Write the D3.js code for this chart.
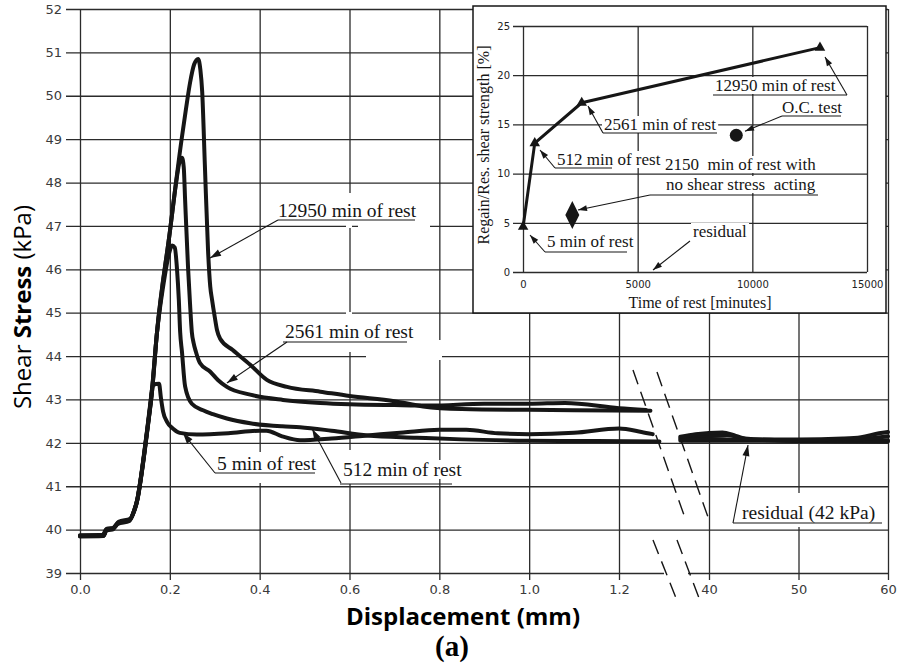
<!DOCTYPE html>
<html>
<head>
<meta charset="utf-8">
<script src="https://cdn.jsdelivr.net/npm/d3@7"></script>
<style>
  body { margin: 0; background: #fff; }
  svg { display: block; }
</style>
</head>
<body>
<svg id="chart" width="898" height="668"></svg>
<script>
// ---------- data ----------
// stress axis (kPa) and displacement axis ticks (mm), the axis is broken after 1.2 mm
const stressTicks = d3.range(39, 53);
const dispTicksNear = [0, 0.2, 0.4, 0.6, 0.8, 1.0, 1.2];
const dispTicksFar = [40, 50, 60];

// shear stress vs displacement, first 1.3 mm of each reshearing stage
const near5 = [[0,39.86],[0.05,39.86],[0.057,39.98],[0.072,40.0],[0.084,40.13],[0.11,40.2],[0.118,40.36],[0.127,40.66],[0.134,41.1],[0.142,41.7],[0.15,42.35],[0.157,42.95],[0.162,43.33],[0.176,43.36],[0.18,43.05],[0.185,42.72],[0.194,42.48],[0.208,42.32],[0.222,42.23],[0.26,42.19],[0.33,42.22],[0.4,42.28],[0.415,42.28],[0.45,42.15],[0.49,42.06],[0.56,42.1],[0.64,42.17],[0.72,42.24],[0.8,42.3],[0.86,42.3],[0.93,42.22],[1.0,42.2],[1.1,42.23],[1.2,42.33],[1.25,42.25],[1.275,42.2]];
const near512 = [[0,39.84],[0.052,39.85],[0.059,40.0],[0.073,40.03],[0.085,40.16],[0.111,40.23],[0.119,40.4],[0.128,40.72],[0.135,41.15],[0.143,41.75],[0.151,42.4],[0.16,43.15],[0.171,44.5],[0.185,45.6],[0.198,46.35],[0.205,46.55],[0.211,46.5],[0.216,46.0],[0.22,45.3],[0.223,44.55],[0.227,44.1],[0.234,43.3],[0.249,42.9],[0.274,42.75],[0.296,42.66],[0.327,42.56],[0.379,42.45],[0.45,42.38],[0.49,42.36],[0.56,42.28],[0.64,42.17],[0.75,42.12],[0.85,42.08],[1.0,42.05],[1.15,42.04],[1.29,42.03]];
const near2561 = [[0,39.87],[0.054,39.88],[0.06,40.02],[0.074,40.04],[0.086,40.18],[0.112,40.25],[0.12,40.42],[0.129,40.75],[0.136,41.2],[0.144,41.8],[0.152,42.45],[0.161,43.25],[0.171,44.5],[0.2,46.86],[0.214,48.0],[0.221,48.45],[0.227,48.57],[0.231,48.35],[0.234,47.6],[0.2405,46.05],[0.245,45.2],[0.249,44.55],[0.253,44.3],[0.258,44.1],[0.267,43.84],[0.29,43.64],[0.307,43.45],[0.327,43.29],[0.379,43.11],[0.452,42.99],[0.535,42.92],[0.6,42.89],[0.7,42.87],[0.78,42.86],[0.9,42.9],[1.0,42.9],[1.08,42.92],[1.2,42.8],[1.26,42.76]];
const near12950 = [[0,39.85],[0.053,39.86],[0.058,40.01],[0.073,40.02],[0.085,40.15],[0.11,40.22],[0.119,40.38],[0.128,40.7],[0.135,41.15],[0.143,41.75],[0.151,42.4],[0.16,43.2],[0.171,44.5],[0.2,46.86],[0.226,48.98],[0.236,49.7],[0.245,50.3],[0.254,50.72],[0.263,50.85],[0.268,50.6],[0.272,50.1],[0.278,48.4],[0.285,46.45],[0.29,45.6],[0.294,45.3],[0.3,44.9],[0.305,44.6],[0.312,44.4],[0.34,44.14],[0.379,43.8],[0.416,43.45],[0.461,43.29],[0.535,43.18],[0.6,43.08],[0.7,42.96],[0.764,42.84],[0.85,42.78],[1.0,42.76],[1.1,42.75],[1.27,42.74]];

// large displacements (right of the axis break)
const far5 = [[36.8,42.11],[40,42.16],[42,42.18],[44,42.1],[50,42.05],[56,42.04],[60,42.06]];
const far512 = [[36.8,42.05],[42,42.05],[46,42.05],[52,42.04],[60,42.03]];
const far2561 = [[36.8,42.08],[40,42.09],[44,42.07],[50,42.06],[55,42.07],[58,42.1],[60,42.15]];
const far12950 = [[36.8,42.14],[38.5,42.2],[41.5,42.24],[43,42.16],[44.5,42.08],[50,42.08],[55,42.1],[57,42.13],[59,42.22],[60,42.25]];

// regain of strength over the residual value vs time of rest
const restTimes = [5, 512, 2561, 12950];
const regainPct = [4.6, 13.1, 17.2, 22.8];
const ocTest = [9300, 13.9];
const noShearRest = [2150, 5.8];
const restTimeTicks = [0, 5000, 10000, 15000];
const regainTicks = [0, 5, 10, 15, 20, 25];

// ---------- setup ----------
const svg = d3.select('#chart');
const INK = '#161616';
const GRID = '#2b2b2b';
const TICKFONT = 'DejaVu Sans';
const SERIF = 'Liberation Serif';

const xNear = d3.scaleLinear().domain([0, 1.2]).range([80, 619]);
const xFar = d3.scaleLinear().domain([40, 60]).range([709, 888]);
const xPos = v => (v < 20 ? xNear(v) : xFar(v));
const y = d3.scaleLinear().domain([39, 52]).range([573, 9]);

const layerGrid = svg.append('g');
const layerPatch = svg.append('g');
const layerCurves = svg.append('g');
const layerNotes = svg.append('g');
const layerInset = svg.append('g');

function styleAxis(g, size, color) {
  g.select('.domain').remove();
  g.selectAll('.tick line').attr('stroke', GRID).attr('stroke-width', 1.3);
  g.selectAll('.tick text').attr('font-family', TICKFONT).attr('font-size', size).attr('fill', color);
}

// horizontal grid (extends left of the frame as tick marks)
layerGrid.append('g')
  .attr('transform', 'translate(888,0)')
  .call(d3.axisLeft(y).tickValues(stressTicks).tickSize(822).tickPadding(4).tickFormat(d3.format('d')))
  .call(g => styleAxis(g, 13, '#3a3a3a'));

// vertical grid, both parts of the broken displacement axis
layerGrid.append('g')
  .attr('transform', 'translate(0,9)')
  .call(d3.axisBottom(xNear).tickValues(dispTicksNear).tickSize(571).tickPadding(5).tickFormat(d3.format('.1f')))
  .call(g => styleAxis(g, 13, '#3a3a3a'));
layerGrid.append('g')
  .attr('transform', 'translate(0,9)')
  .call(d3.axisBottom(xFar).tickValues(dispTicksFar).tickSize(571).tickPadding(5).tickFormat(d3.format('d')))
  .call(g => styleAxis(g, 13, '#3a3a3a'));

// gap in the bottom frame line at the axis break
layerGrid.append('rect').attr('x', 664).attr('y', 570).attr('width', 24).attr('height', 6).attr('fill', '#fff');

// break marks
const breakMarks = [
  [[633, 370], [685, 518]], [[657, 372], [709, 520]],
  [[653, 540], [676, 598]], [[677, 540], [699, 598]]
];
layerGrid.selectAll('line.brk').data(breakMarks).join('line')
  .attr('class', 'brk')
  .attr('x1', d => d[0][0]).attr('y1', d => d[0][1])
  .attr('x2', d => d[1][0]).attr('y2', d => d[1][1])
  .attr('stroke', INK).attr('stroke-width', 1.4).attr('stroke-dasharray', '15,8');

// erased bits of the grid around the labels
const erased = [[346,193,6,35],[358,221,72,8],[346,312,6,40],[366,351,76,9],[438,340,6,16],[257,452,6,31],[346,450,6,34],[795,493,6,34]];
layerPatch.selectAll('rect').data(erased).join('rect')
  .attr('x', d => d[0]).attr('y', d => d[1]).attr('width', d => d[2]).attr('height', d => d[3])
  .attr('fill', '#fff');

// ---------- curves ----------
const line = d3.line().x(d => xPos(d[0])).y(d => y(d[1])).curve(d3.curveMonotoneX);
const curves = [near5, near512, near2561, near12950, far5, far512, far2561, far12950];
layerCurves.selectAll('path').data(curves).join('path')
  .attr('d', line)
  .attr('fill', 'none')
  .attr('stroke', INK)
  .attr('stroke-width', 4)
  .attr('stroke-linejoin', 'round')
  .attr('stroke-linecap', 'round');

// ---------- annotation helpers ----------
function arrowHead(g, from, tip, len, half) {
  const a = Math.atan2(tip[1] - from[1], tip[0] - from[0]);
  const bx = tip[0] - len * Math.cos(a), by = tip[1] - len * Math.sin(a);
  const px = -Math.sin(a) * half, py = Math.cos(a) * half;
  g.append('path')
    .attr('d', `M${tip[0]},${tip[1]}L${bx + px},${by + py}L${bx - px},${by - py}Z`)
    .attr('fill', INK);
}

function drawNote(textLayer, boxLayer, note, tip, opts) {
  const g = textLayer.append('g');
  note.lines.forEach(l => {
    const t = g.append('text')
      .attr('x', l[1]).attr('y', l[2])
      .attr('font-family', SERIF).attr('font-size', opts.size)
      .attr('fill', INK)
      .attr('xml:space', 'preserve')
      .style('white-space', 'pre')
      .text(l[0]);
    const b = t.node().getBBox();
    boxLayer.append('rect')
      .attr('x', b.x - 2).attr('y', b.y + 1)
      .attr('width', b.width + 4).attr('height', b.height - 2)
      .attr('fill', '#fff');
  });
  if (note.ul) {
    g.append('line').attr('x1', note.ul[0]).attr('x2', note.ul[1])
      .attr('y1', note.ul[2]).attr('y2', note.ul[2])
      .attr('stroke', INK).attr('stroke-width', 1.2);
  }
  g.append('line').attr('x1', note.from[0]).attr('y1', note.from[1])
    .attr('x2', tip[0]).attr('y2', tip[1])
    .attr('stroke', INK).attr('stroke-width', 1.1);
  arrowHead(g, note.from, tip, opts.len, opts.half);
}

// main chart labels (arrow tips sit on the curves, in data units)
const mainNotes = [
  { lines: [['12950 min of rest', 278, 217]], ul: [278, 415, 220], from: [278, 220], at: [0.2895, 46.26] },
  { lines: [['2561 min of rest', 285, 338]], ul: [283, 407, 342], from: [287, 342], at: [0.327, 43.38] },
  { lines: [['5 min of rest', 217, 470]], ul: [215, 315, 473], from: [215, 473], at: [0.229, 42.23] },
  { lines: [['512 min of rest', 343, 476]], ul: [340, 452, 484], from: [341, 483], at: [0.517, 42.32] },
  { lines: [['residual (42 kPa)', 742, 519]], ul: [733, 882, 523], from: [733, 523], at: [44.36, 41.95] }
];
mainNotes.forEach(n => drawNote(layerNotes, layerPatch, n, [xPos(n.at[0]), y(n.at[1])], { size: 19.5, len: 11, half: 3.5 }));

// axis titles
const yTitle = svg.append('text')
  .attr('transform', 'translate(31,307) rotate(-90)')
  .attr('text-anchor', 'middle')
  .attr('font-family', 'Open Sans').attr('font-size', 24).attr('fill', '#000');
yTitle.append('tspan').text('Shear ');
yTitle.append('tspan').attr('font-weight', 'bold').text('Stress');
yTitle.append('tspan').text(' (kPa)');

svg.append('text')
  .attr('x', 463).attr('y', 625).attr('text-anchor', 'middle')
  .attr('font-family', 'Open Sans').attr('font-weight', 'bold').attr('font-size', 24).attr('fill', '#000')
  .text('Displacement (mm)');

svg.append('text')
  .attr('x', 452).attr('y', 656).attr('text-anchor', 'middle')
  .attr('font-family', SERIF).attr('font-weight', 'bold').attr('font-size', 29).attr('fill', '#000')
  .text('(a)');

// ---------- inset: regain vs time of rest ----------
const xi = d3.scaleLinear().domain([0, 15000]).range([523, 867]);
const yi = d3.scaleLinear().domain([0, 25]).range([272, 26]);

layerInset.append('rect')
  .attr('x', 473).attr('y', 6).attr('width', 413).attr('height', 307)
  .attr('fill', '#fff').attr('stroke', INK).attr('stroke-width', 1.5);

const insetGrid = layerInset.append('g');
insetGrid.append('g')
  .attr('transform', 'translate(867,0)')
  .call(d3.axisLeft(yi).tickValues(regainTicks).tickSize(354).tickPadding(3).tickFormat(d3.format('d')))
  .call(g => styleAxis(g, 10, '#222'));
insetGrid.append('g')
  .attr('transform', 'translate(0,26)')
  .call(d3.axisBottom(xi).tickValues(restTimeTicks).tickSize(246).tickPadding(9).tickFormat(d3.format('d')))
  .call(g => styleAxis(g, 10, '#222'));

const insetBoxes = layerInset.append('g');
const insetMarks = layerInset.append('g');
const insetNotes = layerInset.append('g');

const regainPts = restTimes.map((t, i) => [t, regainPct[i]]);
insetMarks.append('path')
  .attr('d', d3.line().x(d => xi(d[0])).y(d => yi(d[1]))(regainPts))
  .attr('fill', 'none').attr('stroke', INK).attr('stroke-width', 3).attr('stroke-linejoin', 'round');
insetMarks.selectAll('path.tri').data(regainPts).join('path')
  .attr('class', 'tri')
  .attr('transform', d => `translate(${xi(d[0])},${yi(d[1])})`)
  .attr('d', d3.symbol(d3.symbolTriangle, 48))
  .attr('fill', INK);
insetMarks.append('circle')
  .attr('cx', xi(ocTest[0])).attr('cy', yi(ocTest[1])).attr('r', 6.5).attr('fill', INK);
const dx = xi(noShearRest[0]), dy = yi(noShearRest[1]);
insetMarks.append('path')
  .attr('d', `M${dx},${dy - 14}L${dx + 7},${dy}L${dx},${dy + 14}L${dx - 7},${dy}Z`)
  .attr('fill', INK);

const insetNoteList = [
  { lines: [['12950 min of rest', 715, 91]], ul: [713, 847, 95], from: [847, 95], at: [13169, 21.85] },
  { lines: [['O.C. test', 782, 113]], ul: [782, 841, 116], from: [782, 116], at: [9680, 14.3] },
  { lines: [['2561 min of rest', 604, 130]], ul: [603, 717, 133], from: [603, 133], at: [2834, 16.87] },
  { lines: [['512 min of rest', 557, 165]], ul: [555, 612, 168], from: [555, 168], at: [741, 12.4] },
  { lines: [['2150  min of rest with', 665, 170], ['no shear stress  acting', 666, 190]], ul: [650, 818, 195], from: [650, 195], at: [2398, 6.3] },
  { lines: [['residual', 693, 237]], ul: null, from: [690, 241], at: [5669, 0.2] },
  { lines: [['5 min of rest', 547, 247]], ul: [545, 627, 252], from: [545, 252], at: [305, 3.76] }
];
insetNoteList.forEach(n => drawNote(insetNotes, insetBoxes, n, [xi(n.at[0]), yi(n.at[1])], { size: 17, len: 9, half: 3 }));

layerInset.append('text')
  .attr('x', 700).attr('y', 308).attr('text-anchor', 'middle')
  .attr('font-family', SERIF).attr('font-size', 16).attr('fill', INK)
  .text('Time of rest [minutes]');
layerInset.append('text')
  .attr('transform', 'translate(489,145) rotate(-90)').attr('text-anchor', 'middle')
  .attr('font-family', SERIF).attr('font-size', 16).attr('fill', INK)
  .text('Regain/Res. shear strength [%]');
</script>
</body>
</html>
